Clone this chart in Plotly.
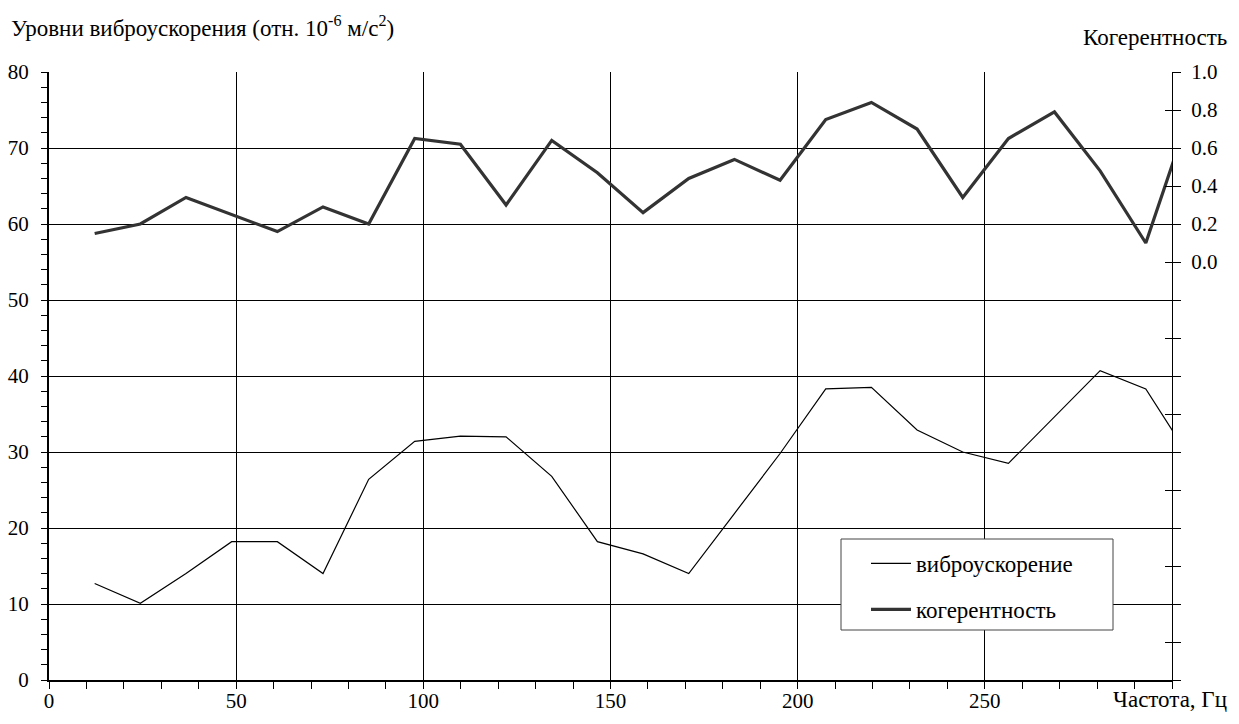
import plotly.graph_objects as go

freq = [12.2, 24.4, 36.6, 48.8, 61.0, 73.2, 85.4, 97.7, 109.9, 122.1, 134.3, 146.5,
        158.7, 170.9, 183.1, 195.3, 207.5, 219.7, 231.9, 244.1, 256.3, 268.6, 280.8,
        293.0, 305.2]
vibro = [12.7, 10.1, 14.0, 18.2, 18.2, 14.0, 26.4, 31.4, 32.1, 32.0, 26.8, 18.2,
         16.6, 14.0, 21.9, 29.8, 38.3, 38.5, 32.9, 30.0, 28.5, 34.6, 40.7, 38.3, 28.9]
coherence = [0.15, 0.20, 0.34, 0.25, 0.16, 0.29, 0.20, 0.65, 0.62, 0.30, 0.64, 0.47,
             0.26, 0.44, 0.54, 0.43, 0.75, 0.84, 0.70, 0.34, 0.65, 0.79, 0.48, 0.10, 0.81]

x_ticks = [0, 50, 100, 150, 200, 250]
y_ticks = [0, 10, 20, 30, 40, 50, 60, 70, 80]
coh_ticks = [round(-2.2 + 0.2 * i, 1) for i in range(17)]
coh_labels = [f"{v:.1f}" if v >= -0.001 else "" for v in coh_ticks]

FONT = "Liberation Serif, Times New Roman, serif"
fs = 21
fs_text = 23

L, R, T, B = 49, 67, 72, 44
PW, PH = 1239 - L - R, 724 - T - B


def px(x):
    return (x - L) / PW


def py(y):
    return (724 - B - y) / PH


fig = go.Figure()
fig.add_trace(go.Scatter(x=freq, y=vibro, mode="lines", name="виброускорение",
                         line=dict(color="black", width=1.2), legendgroup="a"))
fig.add_trace(go.Scatter(x=freq, y=coherence, mode="lines", name="когерентность",
                         yaxis="y2", line=dict(color="#333333", width=3.2), legendgroup="b"))
fig.add_trace(go.Scatter(x=[None], y=[None], yaxis="y3", showlegend=False, hoverinfo="skip"))

fig.update_layout(
    width=1239, height=724,
    margin=dict(l=L, r=R, t=T, b=B, autoexpand=False),
    paper_bgcolor="white", plot_bgcolor="white",
    font=dict(family=FONT, size=fs, color="black"),
    showlegend=True,
    legend=dict(x=px(866), y=py(542), xanchor="left", yanchor="top",
                bgcolor="rgba(0,0,0,0)", borderwidth=0,
                font=dict(family=FONT, size=fs_text), tracegroupgap=13,
                itemwidth=40),
    xaxis=dict(range=[0, 300], tickvals=x_ticks, ticktext=[str(v) for v in x_ticks],
               showgrid=True, gridcolor="black", gridwidth=1, automargin=False,
               showline=True, linecolor="black", linewidth=1.5,
               ticks="outside", ticklen=7, tickcolor="black",
               minor=dict(dtick=10, ticks="outside", ticklen=7, tickcolor="black", showgrid=False),
               ticklabelstandoff=-6, zeroline=False),
    yaxis=dict(range=[0, 80], tickvals=y_ticks, showgrid=True, gridcolor="black", gridwidth=1,
               showline=True, linecolor="black", linewidth=2, automargin=False,
               ticks="outside", ticklen=6, tickcolor="black",
               minor=dict(dtick=2, ticks="outside", ticklen=6, tickcolor="black", showgrid=False),
               ticklabelstandoff=8, zeroline=False),
    yaxis2=dict(range=[-2.2, 1.0], overlaying="y", side="right", anchor="x",
                tickvals=coh_ticks, ticktext=coh_labels, showgrid=False, automargin=False,
                showline=True, linecolor="black", linewidth=1,
                ticks="outside", ticklen=8, tickcolor="black", ticklabelstandoff=6,
                zeroline=False),
    yaxis3=dict(range=[-2.2, 1.0], overlaying="y", side="right", anchor="x",
                tickvals=coh_ticks, showticklabels=False, showgrid=False, automargin=False,
                ticks="inside", ticklen=7, tickcolor="black", zeroline=False),
)

# legend frame
fig.add_shape(type="rect", xref="paper", yref="paper",
              x0=px(841), x1=px(1113), y0=py(630), y1=py(539),
              line=dict(color="#444444", width=1), fillcolor="white", layer="above")

fig.add_annotation(text="Уровни виброускорения (отн. 10<sup>-6</sup> м/с<sup>2</sup>)",
                   xref="paper", yref="paper", x=px(9), y=py(27),
                   xanchor="left", yanchor="middle", showarrow=False,
                   font=dict(family=FONT, size=fs_text))
fig.add_annotation(text="Когерентность", xref="paper", yref="paper",
                   x=px(1229), y=py(38),
                   xanchor="right", yanchor="middle", showarrow=False,
                   font=dict(family=FONT, size=fs_text))
fig.add_annotation(text="Частота, Гц", xref="paper", yref="paper",
                   x=px(1229), y=py(699),
                   xanchor="right", yanchor="middle", showarrow=False,
                   font=dict(family=FONT, size=fs_text))

fig.write_html("out.html", config={"displayModeBar": False},
               post_script="document.body.style.margin='0';document.body.style.overflow='hidden';")
